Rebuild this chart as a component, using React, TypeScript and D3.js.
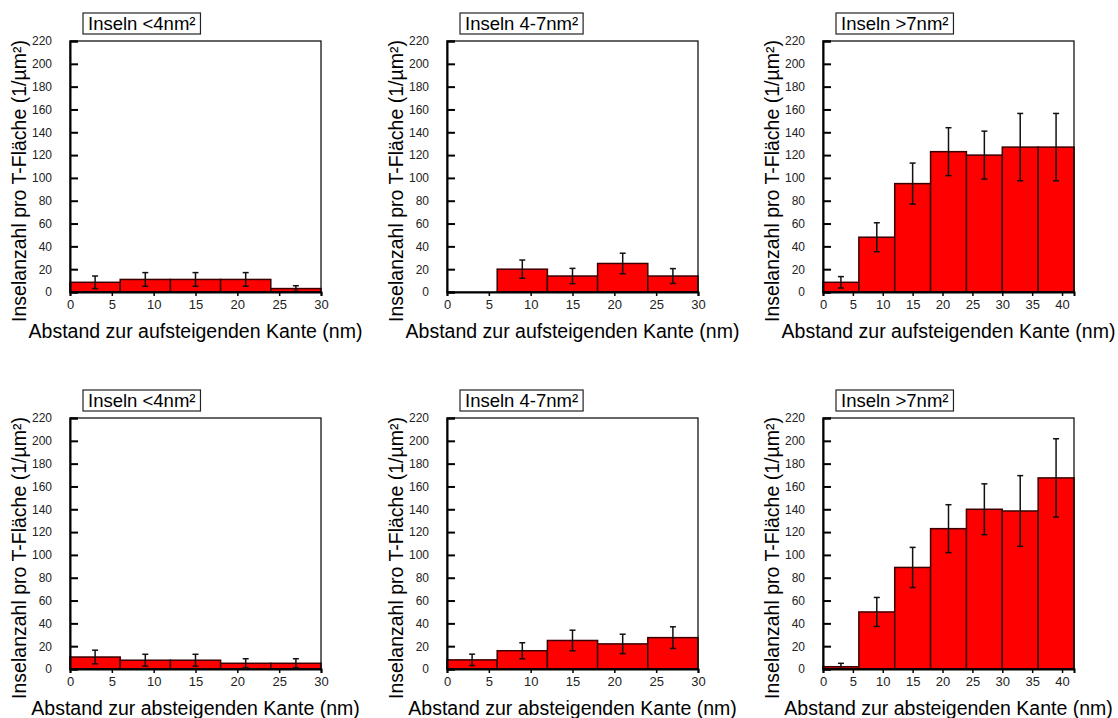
import React, { useEffect, useRef } from 'react';
import * as d3 from 'd3';

// bin starts (nm), each bin is 6 nm wide
const binStarts = [0, 6, 12, 18, 24, 30, 36];
const binWidth = 6;

const titles = ['Inseln <4nm²', 'Inseln 4-7nm²', 'Inseln >7nm²'];
const xLabels = ['Abstand zur aufsteigenden Kante (nm)', 'Abstand zur absteigenden Kante (nm)'];
const yLabel = 'Inselanzahl pro T-Fläche (1/µm²)';
const yTicks = [0, 20, 40, 60, 80, 100, 120, 140, 160, 180, 200, 220];
const xTicks30 = [0, 5, 10, 15, 20, 25, 30];
const xTicks42 = [0, 5, 10, 15, 20, 25, 30, 35, 40];

// aufsteigende Kante
const aufSmall = [8.5, 11, 11, 11, 3];
const aufSmallErr = [5.5, 6, 6, 6, 2.5];
const aufMid = [0, 20, 14, 25, 14];
const aufMidErr = [0, 8, 6.7, 9, 6.5];
const aufLarge = [8.5, 48, 95, 123, 120, 127, 127];
const aufLargeErr = [5, 12.7, 18, 21, 21, 29.5, 29.5];

// absteigende Kante
const abSmall = [10.5, 7.7, 7.7, 5, 5];
const abSmallErr = [6, 5.2, 5.2, 4, 4];
const abMid = [8, 16, 25, 22, 27.5];
const abMidErr = [5, 7, 9, 8.5, 9.5];
const abLarge = [2, 50, 89, 123, 140, 138.5, 167.5];
const abLargeErr = [3, 12.7, 17.6, 21, 22.3, 31, 34.3];

const FONT = 'Arial, "Liberation Sans", sans-serif';

function App() {
  const ref = useRef(null);

  useEffect(() => {
    const svg = d3.select(ref.current);
    svg.selectAll('*').remove();

    const size = 251;
    const lefts = [70, 447, 823];
    const tops = [41, 418];

    const panels = [
      { row: 0, col: 0, vals: aufSmall, errs: aufSmallErr, xMax: 30, ticks: xTicks30 },
      { row: 0, col: 1, vals: aufMid, errs: aufMidErr, xMax: 30, ticks: xTicks30 },
      { row: 0, col: 2, vals: aufLarge, errs: aufLargeErr, xMax: 42, ticks: xTicks42 },
      { row: 1, col: 0, vals: abSmall, errs: abSmallErr, xMax: 30, ticks: xTicks30 },
      { row: 1, col: 1, vals: abMid, errs: abMidErr, xMax: 30, ticks: xTicks30 },
      { row: 1, col: 2, vals: abLarge, errs: abLargeErr, xMax: 42, ticks: xTicks42 },
    ];

    panels.forEach((p) => {
      const left = lefts[p.col];
      const top = tops[p.row];
      const g = svg.append('g').attr('transform', `translate(${left},${top})`);

      const x = d3.scaleLinear().domain([0, p.xMax]).range([0, size]);
      const y = d3.scaleLinear().domain([0, 220]).range([size, 0]);

      const data = p.vals.map((v, i) => ({ start: binStarts[i], v, e: p.errs[i] }));

      // bars
      g.selectAll('rect.bar')
        .data(data)
        .enter()
        .append('rect')
        .attr('class', 'bar')
        .attr('x', (d) => x(d.start))
        .attr('y', (d) => y(d.v))
        .attr('width', (d) => x(d.start + binWidth) - x(d.start))
        .attr('height', (d) => y(0) - y(d.v))
        .attr('fill', '#ff0000')
        .attr('stroke', '#3a0000')
        .attr('stroke-width', 1.5);

      // error bars
      const eb = g.selectAll('g.err')
        .data(data.filter((d) => d.v > 0))
        .enter()
        .append('g')
        .attr('class', 'err')
        .attr('stroke', '#111')
        .attr('stroke-width', 1.5);
      eb.append('line')
        .attr('x1', (d) => x(d.start + binWidth / 2))
        .attr('x2', (d) => x(d.start + binWidth / 2))
        .attr('y1', (d) => y(d.v + d.e))
        .attr('y2', (d) => y(Math.max(0, d.v - d.e)));
      eb.append('line')
        .attr('x1', (d) => x(d.start + binWidth / 2) - 3)
        .attr('x2', (d) => x(d.start + binWidth / 2) + 3)
        .attr('y1', (d) => y(d.v + d.e))
        .attr('y2', (d) => y(d.v + d.e));
      eb.append('line')
        .attr('x1', (d) => x(d.start + binWidth / 2) - 3)
        .attr('x2', (d) => x(d.start + binWidth / 2) + 3)
        .attr('y1', (d) => y(Math.max(0, d.v - d.e)))
        .attr('y2', (d) => y(Math.max(0, d.v - d.e)));

      // frame
      g.append('rect')
        .attr('width', size)
        .attr('height', size)
        .attr('fill', 'none')
        .attr('stroke', '#000')
        .attr('stroke-width', 1.2);

      // y axis, ticks inward
      const yAxis = g.append('g')
        .call(d3.axisLeft(y).tickValues(yTicks).tickSize(-8).tickPadding(18));
      yAxis.select('.domain').attr('stroke-width', 2);
      yAxis.selectAll('line').attr('stroke-width', 2);
      yAxis.selectAll('text')
        .attr('font-family', FONT)
        .attr('font-size', 12)
        .attr('fill', '#222');

      // x axis, ticks outward
      const xAxis = g.append('g')
        .attr('transform', `translate(0,${size})`)
        .call(d3.axisBottom(x).tickValues(p.ticks).tickSize(4).tickPadding(4));
      xAxis.select('.domain').attr('stroke-width', 2);
      xAxis.selectAll('line').attr('stroke-width', 1.5);
      xAxis.selectAll('text')
        .attr('font-family', FONT)
        .attr('font-size', 13)
        .attr('fill', '#222');

      // x label
      g.append('text')
        .attr('x', size / 2)
        .attr('y', size + 46)
        .attr('text-anchor', 'middle')
        .attr('font-family', FONT)
        .attr('font-size', 19.5)
        .text(xLabels[p.row]);

      // y label
      g.append('text')
        .attr('transform', `translate(-44,${140}) rotate(-90)`)
        .attr('text-anchor', 'middle')
        .attr('font-family', FONT)
        .attr('font-size', 19.5)
        .text(yLabel);

      // title box
      const tg = g.append('g').attr('transform', 'translate(13,-28)');
      const tt = tg.append('text')
        .attr('x', 5)
        .attr('y', 16.5)
        .attr('font-family', FONT)
        .attr('font-size', 18.5)
        .text(titles[p.col]);
      const w = (tt.node() as SVGTextElement).getComputedTextLength();
      tg.insert('rect', 'text')
        .attr('width', w + 10)
        .attr('height', 21)
        .attr('fill', '#fff')
        .attr('stroke', '#222')
        .attr('stroke-width', 1.2);
    });
  }, []);

  return (
    <svg
      ref={ref}
      width={1118}
      height={718}
      style={{ position: 'absolute', left: 0, top: 0, background: '#fff' }}
    />
  );
}

export default App;
